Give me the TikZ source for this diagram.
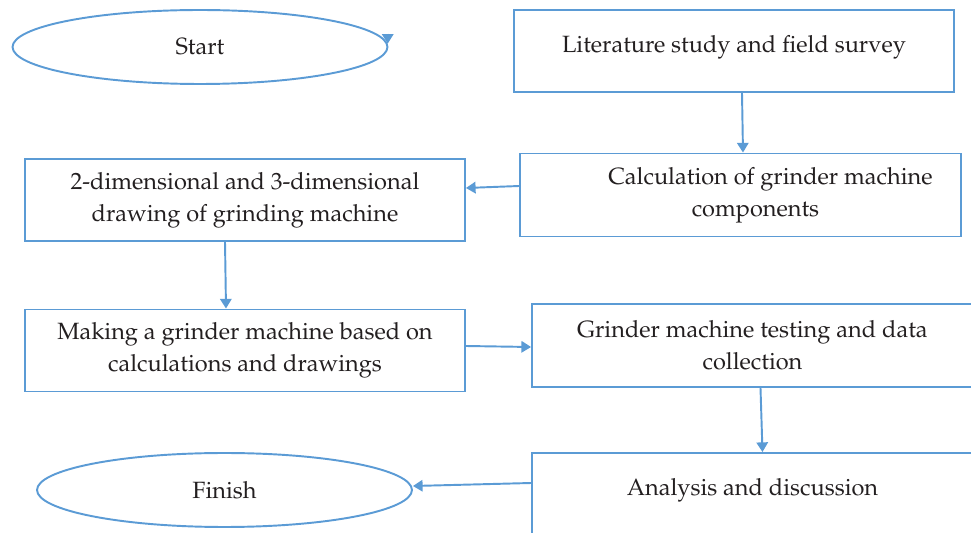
\documentclass[tikz,border=0pt]{standalone}
\usepackage[T1]{fontenc}
\usepackage{mathpazo}
\usetikzlibrary{arrows.meta,shapes.geometric,positioning}
\definecolor{flowblue}{RGB}{91,155,213}
\definecolor{inkgray}{RGB}{35,31,32}

\begin{document}
\begin{tikzpicture}[x=0.02cm,y=-0.02cm,
  stepbox/.style={rectangle,draw=flowblue,line width=1.1pt,minimum width=8.8cm,minimum height=1.64cm,
    inner sep=0pt,align=center,text=inkgray,font=\fontsize{13.4}{18}\selectfont},
  terminal/.style={ellipse,draw=flowblue,line width=1.1pt,minimum width=7.5cm,minimum height=1.48cm,
    inner sep=0pt,text=inkgray,font=\fontsize{13.4}{18}\selectfont},
  flow/.style={draw=flowblue,line width=1.1pt,-{Triangle[length=5.5pt,width=6.5pt]}}]
\useasboundingbox (0,0) rectangle (971,533);
\node[terminal] (start) at (200,47) {Start};
\node[stepbox] (lit) at (734,51) {Literature study and field survey\\[-0.34cm]};
\node[stepbox,minimum width=8.82cm,minimum height=1.66cm] (calc) at (740.5,195)
  {\hspace*{1.2cm}Calculation of grinder machine\\\hspace*{0.6cm}components};
\node[stepbox] (draw2d) at (245,200) {2-dimensional and 3-dimensional\\drawing of grinding machine};
\node[stepbox] (make) at (245,350.5) {Making a grinder machine based on\\calculations and drawings};
\node[stepbox,minimum width=8.82cm,minimum height=1.66cm] (test) at (752.5,345.5)
  {Grinder machine testing and data\\collection};
\node[stepbox,minimum width=8.82cm] (analysis) at (752.5,494) {Analysis and discussion\\[-0.34cm]};
\node[terminal] (finish) at (224.5,490) {Finish};
\coordinate (startin) at ([yshift=0.2cm]start.1.5);
\draw[flow] (startin) -- (start.1.5);
\draw[flow] ([xshift=0.16cm]lit.south) -- ([xshift=0.05cm]calc.north);
\draw[flow] ([yshift=0.18cm]calc.west) -- ([yshift=0.24cm]draw2d.east);
\draw[flow] ([xshift=-0.4cm]draw2d.south) -- ([xshift=-0.38cm]make.north);
\draw[flow] ([yshift=0.09cm]make.east) -- ([yshift=-0.03cm]test.west);
\draw[flow] ([xshift=0.16cm]test.south) -- ([xshift=0.2cm]analysis.north);
\draw[flow] ([yshift=0.22cm]analysis.west) -- ([yshift=0.08cm]finish.east);
\end{tikzpicture}
\end{document}
